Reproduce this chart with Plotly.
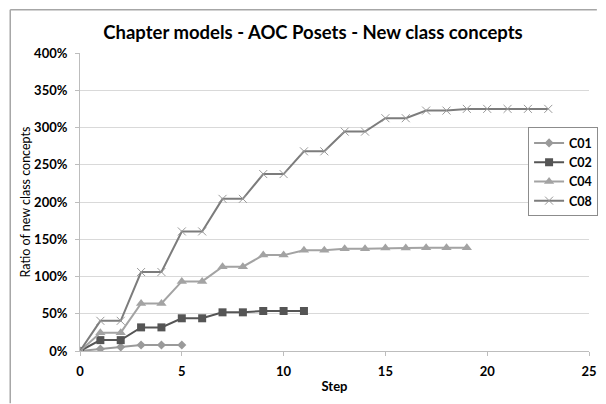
import plotly.graph_objects as go

steps_c01 = [0, 1, 2, 3, 4, 5]
c01 = [0, 2.7, 5.4, 8.1, 8.1, 8.1]
steps_c02 = list(range(12))
c02 = [0, 14.6, 14.6, 31.7, 31.7, 43.9, 43.9, 51.9, 51.9, 53.7, 53.7, 53.7]
steps_c04 = list(range(20))
c04 = [0, 24.6, 24.6, 63.9, 63.9, 93.4, 93.4, 113.1, 113.1, 128.7, 128.7,
       135.2, 135.2, 137.3, 137.3, 138.2, 138.2, 138.5, 138.5, 138.5]
steps_c08 = list(range(24))
c08 = [0, 40.5, 40.5, 106.0, 106.0, 160.5, 160.5, 204.2, 204.2, 237.5, 237.5,
       268.0, 268.0, 294.5, 294.5, 312.5, 312.5, 322.7, 322.7, 325.0, 325.0,
       325.0, 325.0, 325.0]

x_ticks = [0, 5, 10, 15, 20, 25]
y_ticks = [0, 50, 100, 150, 200, 250, 300, 350, 400]
y_labels = [f"{v}%" for v in y_ticks]

FONT = "Lato"
L, R, T, B = 80, 598, 52.5, 351.5
PW, PH = R - L, B - T

fig = go.Figure()
fig.add_trace(go.Scatter(x=steps_c01, y=c01, name="C01", mode="lines+markers",
                         line=dict(color="#9a9a9a", width=2),
                         marker=dict(symbol="diamond", size=7, color="#9a9a9a")))
fig.add_trace(go.Scatter(x=steps_c02, y=c02, name="C02", mode="lines+markers",
                         line=dict(color="#555555", width=2),
                         marker=dict(symbol="square", size=8, color="#555555")))
fig.add_trace(go.Scatter(x=steps_c04, y=c04, name="C04", mode="lines+markers",
                         line=dict(color="#a3a3a3", width=2),
                         marker=dict(symbol="triangle-up", size=9, color="#a3a3a3")))
fig.add_trace(go.Scatter(x=steps_c08, y=c08, name="C08", mode="lines+markers",
                         line=dict(color="#7c7c7c", width=2),
                         marker=dict(symbol="x-thin", size=8,
                                     line=dict(color="#9a9a9a", width=1))))

# chart-area border (Excel style): left and top edges
bx0 = (9 - L) / PW
bx1 = (606 - L) / PW
by0 = (B - 404) / PH
by1 = (B - 9) / PH
fig.add_shape(type="line", xref="paper", yref="paper", x0=bx0, x1=bx0, y0=by0, y1=by1,
              line=dict(color="#a6a6a6", width=1.5), layer="above")
fig.add_shape(type="line", xref="paper", yref="paper", x0=bx0, x1=bx1, y0=by1, y1=by1,
              line=dict(color="#a6a6a6", width=1.5), layer="above")

fig.update_layout(
    width=606, height=404,
    margin=dict(l=L, r=606 - R, t=T, b=404 - B),
    paper_bgcolor="white", plot_bgcolor="white",
    font=dict(family=FONT, size=13, color="#000000", weight="bold"),
    title=dict(text="Chapter models - AOC Posets - New class concepts",
               x=313 / 606, xref="container", xanchor="center",
               y=1 - 33 / 404, yref="container", yanchor="middle",
               font=dict(family=FONT, size=18.5, color="#000000", weight="bold")),
    showlegend=True,
    legend=dict(x=(536 - L) / PW, xanchor="left", y=(B - 127) / PH, yanchor="top",
                bgcolor="white", bordercolor="#8c8c8c", borderwidth=1,
                font=dict(family=FONT, size=12.5, color="#000000", weight="bold"),
                tracegroupgap=0, itemwidth=30),
)
fig.update_xaxes(range=[0, 25], tickvals=x_ticks, ticktext=[str(v) for v in x_ticks],
                 showgrid=False, zeroline=False, automargin=False,
                 showline=True, linecolor="#bdbdbd", linewidth=1,
                 ticks="outside", ticklen=4, tickcolor="#bdbdbd",
                 ticklabelstandoff=4, ticklabeloverflow="allow",
                 title=dict(text="Step", standoff=4, font=dict(size=13)))
fig.update_yaxes(range=[0, 400], tickvals=y_ticks, ticktext=y_labels,
                 showgrid=True, gridcolor="#d9d9d9", gridwidth=1, zeroline=False,
                 automargin=False,
                 showline=True, linecolor="#bdbdbd", linewidth=1,
                 ticks="outside", ticklen=4, tickcolor="#bdbdbd",
                 ticklabelstandoff=5,
                 title=dict(text="Ratio of new class concepts", standoff=0,
                            font=dict(size=12.5, weight="normal")))

fig.write_html("out.html", config={"displayModeBar": False},
               post_script="document.body.style.margin='0';document.body.style.overflow='hidden';")
